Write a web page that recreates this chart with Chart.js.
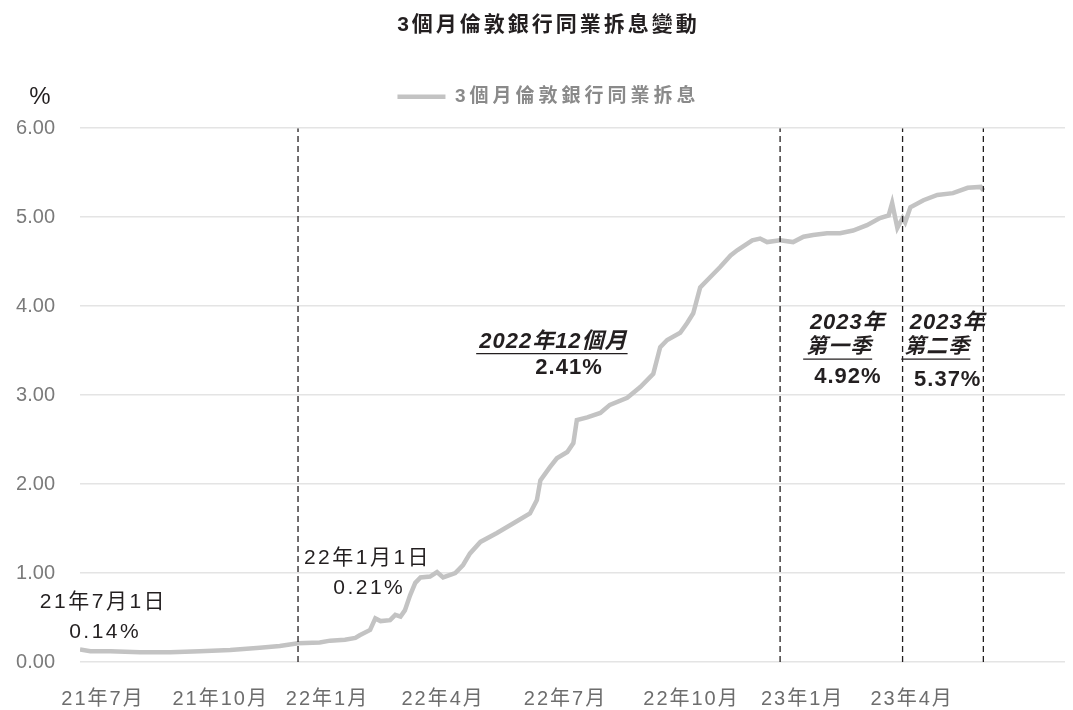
<!DOCTYPE html>
<html>
<head>
<meta charset="utf-8">
<script src="https://cdn.jsdelivr.net/npm/chart.js@4.4.0/dist/chart.umd.min.js"></script>
<style>
  html, body { margin: 0; padding: 0; background: #fff; }
</style>
</head>
<body>
<canvas id="myChart" width="1073" height="710"></canvas>
<script>
// week index from 2021-07-01
const weeks = [0, 1.2, 3.5, 6.9, 10.4, 13.8, 17.3, 20.7, 23.0, 25.1, 27.6, 28.8, 30.5, 31.7, 32.2, 33.4, 34.0, 34.6, 35.7, 36.3, 36.9, 37.4, 38.0, 38.6, 39.2, 40.3, 41.1, 41.8, 43.2, 44.1, 44.9, 46.1, 48.0, 49.9, 51.8, 52.6, 53.0, 54.1, 54.9, 56.1, 56.8, 57.2, 58.4, 59.9, 61.0, 63.0, 64.5, 66.0, 66.8, 67.6, 69.1, 69.9, 70.6, 71.4, 72.6, 73.7, 74.9, 75.7, 77.4, 78.3, 79.1, 80.6, 82.1, 83.3, 84.4, 86.0, 87.5, 89.0, 90.6, 92.1, 93.1, 93.5, 94.1, 94.7, 95.0, 95.6, 97.1, 98.7, 100.5, 102.2, 103.7, 104.0];
const rates = [0.14, 0.12, 0.12, 0.11, 0.11, 0.12, 0.135, 0.16, 0.18, 0.21, 0.22, 0.24, 0.25, 0.27, 0.30, 0.36, 0.49, 0.46, 0.47, 0.53, 0.51, 0.58, 0.75, 0.89, 0.95, 0.96, 1.01, 0.95, 1.00, 1.09, 1.22, 1.35, 1.45, 1.56, 1.67, 1.82, 2.04, 2.19, 2.29, 2.36, 2.46, 2.72, 2.75, 2.80, 2.89, 2.97, 3.09, 3.24, 3.54, 3.62, 3.70, 3.81, 3.92, 4.21, 4.33, 4.44, 4.57, 4.63, 4.74, 4.76, 4.72, 4.74, 4.72, 4.78, 4.80, 4.82, 4.82, 4.85, 4.91, 4.99, 5.02, 5.16, 4.88, 4.99, 4.94, 5.11, 5.19, 5.25, 5.27, 5.33, 5.34, 5.30];

const tickWeeks = [2.65, 16.2, 28.5, 41.8, 55.9, 70.4, 83.2, 95.8];
const tickLabels = ["21年7月", "21年10月", "22年1月", "22年4月", "22年7月", "22年10月", "23年1月", "23年4月"];

// 22年1月1日, 23年1月, 23年4月, 23年6月底
const markWeeks = [25.1, 80.6, 94.7, 104.0];

const seriesName = "3個月倫敦銀行同業拆息";
const titleText = "3個月倫敦銀行同業拆息變動";

const FONT = "'Liberation Sans', 'Noto Sans CJK TC', sans-serif";

const notes = [
  { text: "21年7月1日", x: 2.7, y: 0.67, font: "21px" },
  { text: "0.14%", x: 2.9, y: 0.34, font: "21px" },
  { text: "22年1月1日", x: 33.1, y: 1.17, font: "21px" },
  { text: "0.21%", x: 33.3, y: 0.83, font: "21px" },
  { text: "2022年12個月", x: 54.5, y: 3.60, font: "italic bold 22px", underline: true },
  { text: "2.41%", x: 56.3, y: 3.30, font: "bold 22px" },
  { text: "2023年", x: 88.4, y: 3.81, font: "italic bold 22px" },
  { text: "第一季", x: 87.4, y: 3.54, font: "italic bold 21px", underline: true },
  { text: "4.92%", x: 88.4, y: 3.20, font: "bold 22px" },
  { text: "2023年", x: 99.9, y: 3.81, font: "italic bold 22px" },
  { text: "第二季", x: 98.7, y: 3.54, font: "italic bold 21px", underline: true },
  { text: "5.37%", x: 99.9, y: 3.17, font: "bold 22px" },
];

function spaced(obj, fn, ls, ctx, after) {
  const orig = obj[fn];
  obj[fn] = function (...args) {
    const old = ctx.letterSpacing;
    ctx.letterSpacing = ls;
    const r = orig.apply(this, args);
    ctx.letterSpacing = old;
    if (after) after.call(this);
    return r;
  };
}

const spacing = {
  id: "spacing",
  beforeLayout(chart) {
    if (chart._spaced) return;
    chart._spaced = true;
    const ctx = chart.ctx;
    spaced(chart.titleBlock, "draw", "3px", ctx);
    // a bit more room under the legend row
    spaced(chart.legend, "fit", "4px", ctx, function () { this.height += 12; });
    spaced(chart.legend, "draw", "4px", ctx);
    spaced(chart.scales.x, "drawLabels", "2px", ctx);
    chart.scales.y._computeLabelArea = () => undefined;
  },
};

const extras = {
  id: "extras",
  afterDraw(chart) {
    const { ctx, scales: { x, y }, chartArea } = chart;
    ctx.save();
    ctx.fillStyle = "#231f20";
    ctx.textAlign = "center";
    ctx.textBaseline = "middle";
    ctx.font = "24px " + FONT;
    ctx.fillText("%", chartArea.left - 40, chartArea.top - 31);

    notes.forEach((n) => {
      ctx.font = n.font + " " + FONT;
      ctx.letterSpacing = n.font.includes("bold") ? "1px" : "2.5px";
      const px = x.getPixelForValue(n.x);
      const py = y.getPixelForValue(n.y);
      ctx.fillText(n.text, px, py);
      if (n.underline) {
        const w = ctx.measureText(n.text).width;
        ctx.strokeStyle = "#231f20";
        ctx.lineWidth = 1.2;
        ctx.beginPath();
        ctx.moveTo(px - w / 2 - 3, py + 12);
        ctx.lineTo(px + w / 2, py + 12);
        ctx.stroke();
      }
    });
    ctx.restore();
  },
};

const datasets = [
  {
    label: seriesName,
    data: weeks.map((w, i) => ({ x: w, y: rates[i] })),
    borderColor: "#c3c3c3",
    backgroundColor: "#c3c3c3",
    borderWidth: 4.5,
    pointRadius: 0,
    tension: 0,
    order: 1,
  },
];
markWeeks.forEach((w) => {
  datasets.push({
    label: "mark",
    data: [{ x: w, y: 0 }, { x: w, y: 6 }],
    borderColor: "#231f20",
    borderWidth: 1.3,
    borderDash: [6, 4],
    pointRadius: 0,
    order: 0,
  });
});

const ctx = document.getElementById("myChart").getContext("2d");
const myChart = new Chart(ctx, {
  type: "line",
  data: { datasets },
  options: {
    responsive: false,
    devicePixelRatio: 1,
    animation: false,
    layout: { padding: { left: 32, right: 8, top: 0, bottom: 0 } },
    plugins: {
      tooltip: { enabled: false },
      title: {
        display: true,
        text: titleText,
        color: "#231f20",
        font: { family: FONT, size: 21, weight: "bold" },
        padding: { top: 13, bottom: 39 },
      },
      legend: {
        display: true,
        labels: {
          filter: (item) => item.datasetIndex === 0,
          usePointStyle: true,
          pointStyle: "line",
          pointStyleWidth: 48,
          color: "#8a8a8a",
          font: { family: FONT, size: 19, weight: "bold" },
          padding: 10,
        },
      },
    },
    scales: {
      x: {
        type: "linear",
        min: 0,
        max: 113.4,
        grid: { display: false },
        border: { display: false },
        afterBuildTicks: (scale) => {
          scale.ticks = tickWeeks.map((v) => ({ value: v }));
        },
        afterFit: (scale) => { scale.height = 48; },
        ticks: {
          autoSkip: false,
          maxRotation: 0,
          padding: 17,
          color: "#6d6d6d",
          font: { family: FONT, size: 20 },
          callback: (v, i) => tickLabels[i],
        },
      },
      y: {
        min: 0,
        max: 6,
        afterFit: (scale) => { scale.width = 48; },
        grid: { color: "#e4e4e4", lineWidth: 1.5, drawTicks: false },
        border: { display: false },
        ticks: {
          stepSize: 1,
          padding: 25,
          color: "#7a7a7a",
          font: { family: FONT, size: 20 },
          callback: (v) => v.toFixed(2),
        },
      },
    },
  },
  plugins: [spacing, extras],
});
</script>
</body>
</html>
